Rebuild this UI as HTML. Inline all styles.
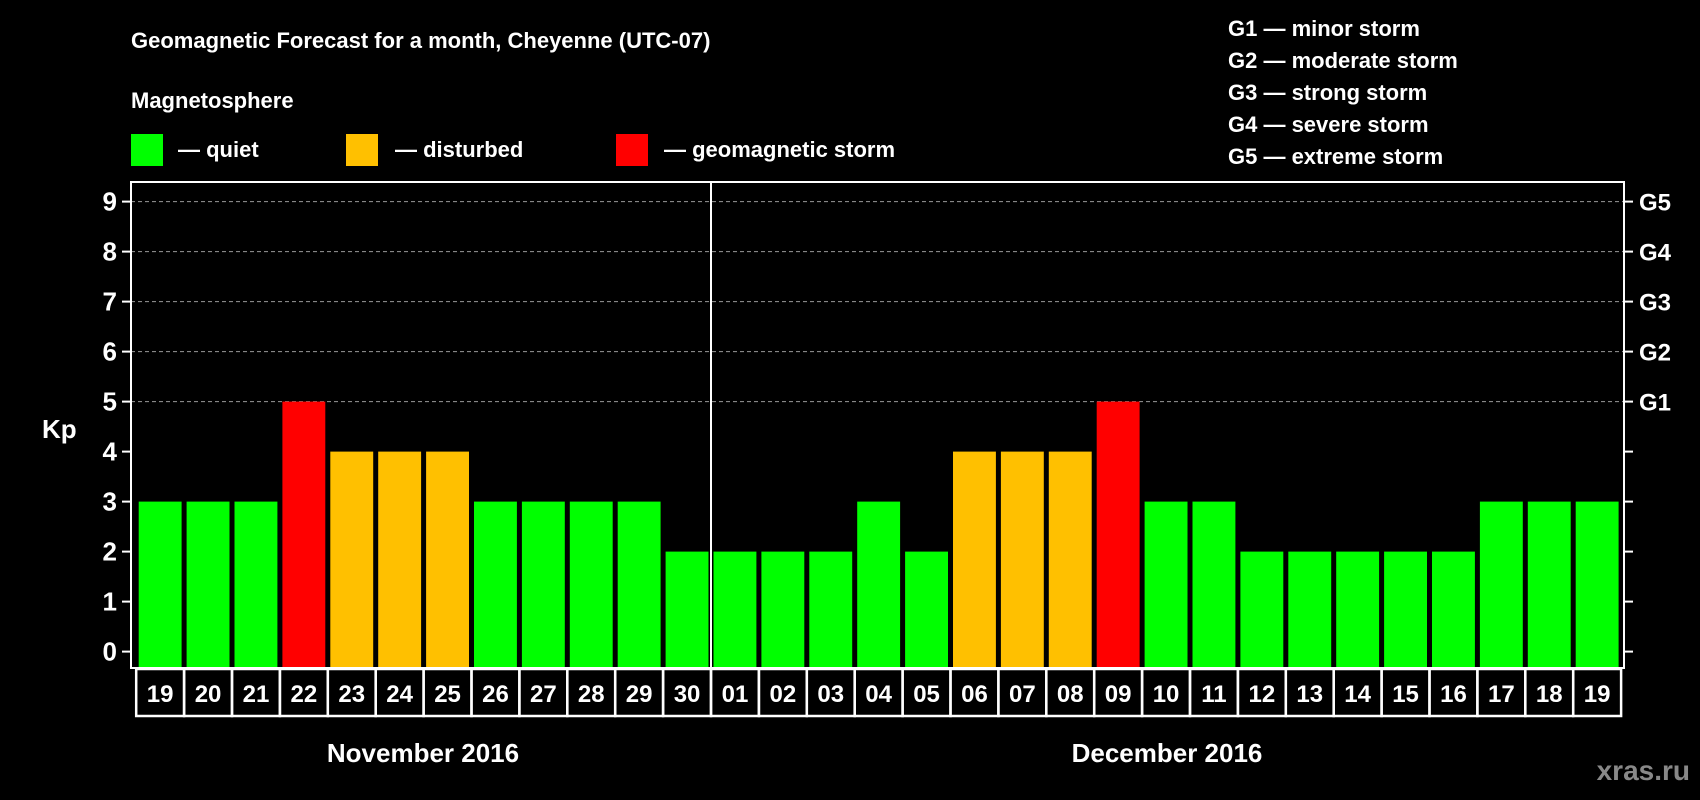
<!DOCTYPE html>
<html><head><meta charset="utf-8"><style>
body{margin:0;background:#000;}
svg{display:block;font-family:"Liberation Sans",Arial,sans-serif;font-weight:bold;}
</style></head><body>
<svg id="chart" width="1700" height="800" viewBox="0 0 1700 800">
<rect width="1700" height="800" fill="#000"/>
<text x="131" y="48" fill="#fff" font-size="22">Geomagnetic Forecast for a month, Cheyenne (UTC-07)</text>
<text x="131" y="108" fill="#fff" font-size="22">Magnetosphere</text>
<g><rect x="131" y="134" width="32" height="32" fill="#00ff00"/><text x="178" y="157" fill="#fff" font-size="22">— quiet</text></g>
<g><rect x="346" y="134" width="32" height="32" fill="#ffc000"/><text x="395" y="157" fill="#fff" font-size="22">— disturbed</text></g>
<g><rect x="616" y="134" width="32" height="32" fill="#ff0000"/><text x="664" y="157" fill="#fff" font-size="22">— geomagnetic storm</text></g>
<g fill="#fff" font-size="22">
<text x="1228" y="36">G1 — minor storm</text>
<text x="1228" y="68">G2 — moderate storm</text>
<text x="1228" y="100">G3 — strong storm</text>
<text x="1228" y="132">G4 — severe storm</text>
<text x="1228" y="164">G5 — extreme storm</text>
</g>
<text x="42" y="438" fill="#fff" font-size="26">Kp</text>
<g id="grid"></g>
<g id="bars"></g>
<g id="axes"></g>
<text x="423" y="762" fill="#fff" font-size="26" text-anchor="middle">November 2016</text>
<text x="1167" y="762" fill="#fff" font-size="26" text-anchor="middle">December 2016</text>
<text x="1690" y="780" fill="#888" font-size="28" text-anchor="end">xras.ru</text>
</svg>
<script>
const days = ["19","20","21","22","23","24","25","26","27","28","29","30","01","02","03","04","05","06","07","08","09","10","11","12","13","14","15","16","17","18","19"];
const kpValues = [3,3,3,5,4,4,4,3,3,3,3,2,2,2,2,3,2,4,4,4,5,3,3,2,2,2,2,2,3,3,3];
const yTicks = [0,1,2,3,4,5,6,7,8,9];
const gLabels = ["G1","G2","G3","G4","G5"];
const NS="http://www.w3.org/2000/svg";
const frameL=131, frameR=1624, frameT=182, frameB=668;
const x0=136.2, slot=47.9;
function xs(i){return x0+i*slot;}
function ys(v){return 651.6-v*50;}
function mk(tag,attrs,parent){const e=document.createElementNS(NS,tag);for(const k in attrs)e.setAttribute(k,attrs[k]);parent.appendChild(e);return e;}
const grid=document.getElementById('grid'),bars=document.getElementById('bars'),axes=document.getElementById('axes');
yTicks.forEach(v=>{
  const y=ys(v);
  if(v>=5){const l=mk('line',{x1:frameL,x2:frameR,y1:y,y2:y,stroke:'#999','stroke-width':1,'stroke-dasharray':'4,3'},grid);
  
  }
  const t1=mk('line',{x1:frameL-9,x2:frameL,y1:y,y2:y,stroke:'#fff','stroke-width':2},axes);
  
  
  const t2=mk('line',{x1:frameR,x2:frameR+9,y1:y,y2:y,stroke:'#fff','stroke-width':2},axes);
  
  
  const tx=mk('text',{x:frameL-14,y:y+9,fill:'#fff','font-size':26,'text-anchor':'end'},axes);
  tx.textContent=v;
  
  
});
gLabels.forEach((g,i)=>{
  const t=mk('text',{x:1639,y:ys(5+i)+9,fill:'#fff','font-size':24},axes);
  t.textContent=g;
  
  
});
kpValues.forEach((v,i)=>{
  const c=v>=5?'#ff0000':(v>=4?'#ffc000':'#00ff00');
  const r=mk('rect',{x:xs(i)+2.5,y:ys(v),width:slot-5,height:frameB-ys(v),fill:c},bars);
  
  
  const b=mk('rect',{x:xs(i),y:frameB+1,width:slot,height:47,fill:'none',stroke:'#fff','stroke-width':2.5},axes);
  
  
  const t=mk('text',{x:xs(i)+slot/2,y:frameB+34,fill:'#fff','font-size':24,'text-anchor':'middle'},axes);
  t.textContent=days[i];
  
  
});
const f=mk('rect',{x:frameL,y:frameT,width:frameR-frameL,height:frameB-frameT,fill:'none',stroke:'#fff','stroke-width':2},axes);


const d=mk('line',{x1:xs(12),x2:xs(12),y1:frameT,y2:frameB,stroke:'#fff','stroke-width':2},axes);


</script>
</body></html>
